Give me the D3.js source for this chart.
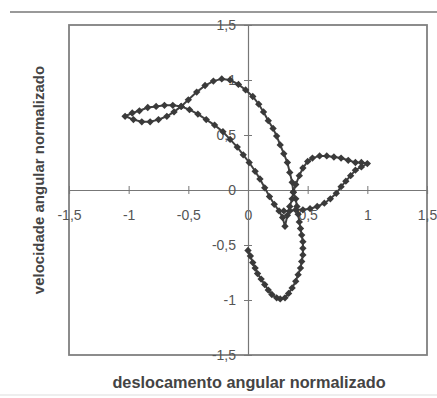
<!DOCTYPE html>
<html>
<head>
<meta charset="utf-8">
<script src="https://cdn.jsdelivr.net/npm/d3@7"></script>
<style>
  body { margin: 0; background: #fff; }
  svg { display: block; font-family: "Liberation Sans", Arial, sans-serif; }
</style>
</head>
<body>
<svg id="chart" width="437" height="398"></svg>
<script>
// displacement (x) and velocity (y), normalized in path order
var desloc = [
  0.00, 0.02, 0.04, 0.06, 0.08, 0.11, 0.14, 0.17, 0.20, 0.24, 0.27, 0.31, 0.34, 0.37, 0.40, 0.42, 0.44, 0.45, 0.46, 0.46,
  0.46, 0.45, 0.44, 0.43, 0.42, 0.41, 0.40, 0.38,
  0.37, 0.35, 0.33, 0.30, 0.27, 0.24, 0.21, 0.17, 0.13, 0.09, 0.04, -0.02, -0.08, -0.15, -0.22, -0.29, -0.36, -0.43, -0.50,
  -0.56, -0.62, -0.68, -0.75, -0.82, -0.89, -0.96, -1.03,
  -0.97, -0.91, -0.84, -0.77, -0.70, -0.63, -0.56,
  -0.49, -0.42, -0.35, -0.28, -0.21, -0.15, -0.09, -0.04, 0.01, 0.06, 0.10, 0.14, 0.18, 0.22, 0.26, 0.29, 0.31,
  0.33, 0.35, 0.37, 0.38, 0.40, 0.43, 0.46, 0.50, 0.54, 0.60, 0.66, 0.72, 0.78, 0.84, 0.90, 0.95, 1.00,
  0.95, 0.90, 0.86, 0.82, 0.78, 0.74, 0.69, 0.64, 0.58, 0.52, 0.46, 0.40, 0.35, 0.30
];
var veloc = [
  -0.55, -0.60, -0.66, -0.71, -0.76, -0.81, -0.86, -0.91, -0.95, -0.98, -0.99, -0.98, -0.94, -0.89, -0.83, -0.77, -0.71, -0.65, -0.59, -0.53,
  -0.47, -0.41, -0.35, -0.29, -0.22, -0.15, -0.08, -0.02,
  0.07, 0.16, 0.25, 0.33, 0.41, 0.49, 0.56, 0.63, 0.71, 0.78, 0.85, 0.91, 0.96, 1.00, 1.01, 0.99, 0.95, 0.89, 0.82,
  0.76, 0.71, 0.67, 0.64, 0.62, 0.62, 0.64, 0.67,
  0.70, 0.72, 0.75, 0.76, 0.77, 0.77, 0.76,
  0.73, 0.69, 0.64, 0.59, 0.53, 0.46, 0.39, 0.32, 0.25, 0.17, 0.10, 0.02, -0.06, -0.13, -0.19, -0.25, -0.33,
  -0.23, -0.15, -0.08, -0.02, 0.05, 0.13, 0.20, 0.26, 0.29, 0.31, 0.31, 0.30, 0.29, 0.27, 0.25, 0.25, 0.24,
  0.21, 0.18, 0.13, 0.08, 0.03, -0.03, -0.08, -0.12, -0.15, -0.17, -0.18, -0.18, -0.19, -0.19
];
var tickVals = [-1.5, -1, -0.5, 0, 0.5, 1, 1.5];
var tickText = ["-1,5", "-1", "-0,5", "0", "0,5", "1", "1,5"];

var svg = d3.select("#chart");

var x = d3.scaleLinear().domain([-1.5, 1.5]).range([69, 427]);
var y = d3.scaleLinear().domain([-1.5, 1.5]).range([355, 25]);

// scan edges
svg.append("line").attr("x1", 10).attr("x2", 437).attr("y1", 12).attr("y2", 12)
  .attr("stroke", "#777").attr("stroke-width", 1.5);
svg.append("line").attr("x1", 0).attr("x2", 437).attr("y1", 395).attr("y2", 395)
  .attr("stroke", "#ddd").attr("stroke-width", 1);

// plot frame
svg.append("rect")
  .attr("x", x(-1.5)).attr("y", y(1.5))
  .attr("width", x(1.5) - x(-1.5)).attr("height", y(-1.5) - y(1.5))
  .attr("fill", "none").attr("stroke", "#808080").attr("stroke-width", 1.8);

function fmt(d) { return tickText[tickVals.indexOf(d)]; }

var gx = svg.append("g")
  .attr("transform", "translate(0," + y(0) + ")")
  .call(d3.axisBottom(x).tickValues(tickVals).tickFormat(fmt).tickSizeOuter(0).tickSize(4).tickPadding(16));

var gy = svg.append("g")
  .attr("transform", "translate(" + x(0) + ",0)")
  .call(d3.axisLeft(y).tickValues(tickVals).tickFormat(fmt).tickSizeOuter(0).tickSize(4).tickPadding(8));

gx.selectAll(".tick line").attr("y1", -4).attr("y2", 4);
gy.selectAll(".tick line").attr("x1", -4).attr("x2", 4);
[gx, gy].forEach(function(g) {
  g.select(".domain").attr("stroke", "#777").attr("stroke-width", 1.2);
  g.selectAll(".tick line").attr("stroke", "#777");
  g.selectAll("text").attr("fill", "#555").attr("font-size", 14)
    .attr("font-family", "'Liberation Sans', Arial, sans-serif");
});

// data
var pts = desloc.map(function(d, i) { return [d, veloc[i]]; });

svg.append("path")
  .datum(pts)
  .attr("fill", "none")
  .attr("stroke", "#404040")
  .attr("stroke-width", 2)
  .attr("d", d3.line().x(function(d) { return x(d[0]); }).y(function(d) { return y(d[1]); }));

svg.append("g").selectAll("path")
  .data(pts)
  .enter().append("path")
  .attr("d", d3.symbol(d3.symbolSquare, 27))
  .attr("transform", function(d) { return "translate(" + x(d[0]) + "," + y(d[1]) + ") rotate(45)"; })
  .attr("fill", "#3a3a3a");

// axis titles
svg.append("text")
  .attr("x", 249).attr("y", 388)
  .attr("text-anchor", "middle")
  .attr("font-size", 16.3).attr("font-weight", "bold").attr("fill", "#444")
  .text("deslocamento angular normalizado");

svg.append("text")
  .attr("transform", "translate(44,180) rotate(-90)")
  .attr("text-anchor", "middle")
  .attr("font-size", 15).attr("font-weight", "bold").attr("fill", "#444")
  .text("velocidade angular normalizado");
</script>
</body>
</html>
